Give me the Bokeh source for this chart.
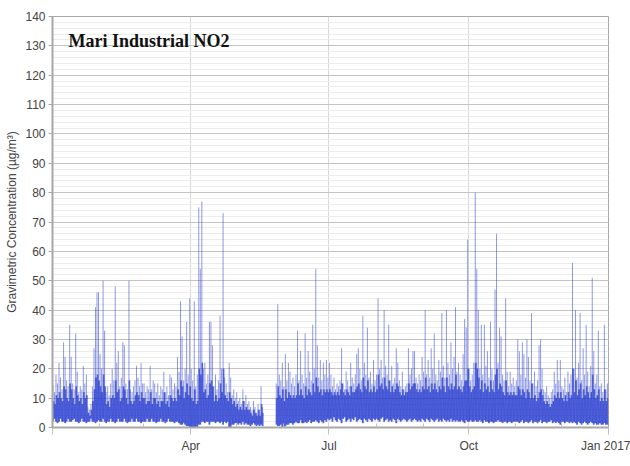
import numpy as np
from bokeh.plotting import figure
from bokeh.models import FixedTicker, SingleIntervalTicker, Label, Range1d
from bokeh.embed import file_html
from bokeh.resources import INLINE

N = None
# day offsets from 2016-01-01
tick_days = [0, 91, 182, 274, 366]
tick_labels = ["", "Apr", "Jul", "Oct", "Jan 2017"]
month_starts = [31, 60, 121, 152, 213, 244, 305, 335]
year_label = "2016"
title_text = "Mari Industrial NO2"
y_title = "Gravimetric Concentration (µg/m³)"

# daily peak (hourly maximum), µg/m³
daily_peak = (
    [14, 12, 18, 15, 22, 17, 13, 29, 24, 16, 14, 35, 24, 15, 13, 32, 19, 12, 14, 13, 21, 15, 18, 7, 6, 8, 14, 27, 41, 46, 46] +
    [25, 20, 50, 33, 12, 14, 11, 15, 20, 16, 48, 22, 26, 14, 17, 29, 28, 15, 13, 50, 13, 12, 14, 16, 21, 17, 14, 22, 15] +
    [15, 12, 14, 13, 21, 13, 16, 15, 12, 15, 11, 14, 13, 19, 12, 14, 11, 18, 17, 13, 15, 14, 24, 19, 43, 31, 16, 20, 36, 18, 44] +
    [20, 16, 43, 14, 18, 75, 54, 77, 20, 22, 15, 18, 36, 36, 28, 14, 18, 13, 16, 38, 20, 73, 17, 15, 12, 22, 17, 11, 13, 10] +
    [12, 9, 10, 8, 13, 9, 11, 8, 9, 7, 6, 9, 7, 5, 8, 6, 14, 7, N, N, N, N, N, N, N, N, 15, 42, 18, 16, 22] +
    [14, 25, 16, 22, 19, 15, 17, 14, 18, 33, 16, 26, 18, 15, 32, 17, 26, 19, 16, 35, 20, 54, 28, 17, 23, 16, 22, 18, 23, 17] +
    [22, 18, 14, 17, 13, 15, 14, 16, 27, 15, 13, 19, 16, 14, 22, 17, 15, 18, 25, 27, 20, 16, 38, 22, 18, 34, 17, 19, 15, 23, 16] +
    [18, 44, 20, 23, 17, 40, 21, 18, 35, 16, 21, 15, 17, 27, 22, 16, 14, 19, 13, 14, 15, 27, 18, 20, 26, 26, 17, 15, 18, 16, 24] +
    [19, 40, 18, 23, 17, 27, 20, 32, 18, 16, 23, 19, 39, 21, 17, 40, 22, 18, 29, 20, 24, 41, 19, 22, 18, 16, 25, 37, 34, 64] +
    [20, 16, 18, 22, 80, 54, 40, 20, 35, 18, 35, 21, 26, 17, 36, 20, 16, 47, 66, 22, 34, 31, 18, 16, 44, 19, 14, 19, 15, 17, 14] +
    [16, 30, 26, 18, 29, 25, 17, 30, 24, 16, 39, 15, 19, 14, 16, 28, 30, 20, 13, 12, 14, 11, 10, 12, 13, 19, 15, 23, 16, 23] +
    [14, 13, 17, 12, 19, 15, 18, 56, 20, 40, 17, 22, 39, 16, 27, 18, 35, 19, 14, 21, 51, 26, 15, 18, 33, 14, 15, 12, 35, 13, 15]
)
# daily upper edge of the dense band
daily_band = (
    [9, 8, 11, 10, 12, 10, 9, 14, 13, 10, 9, 15, 13, 10, 8, 14, 11, 9, 10, 8, 12, 10, 11, 5, 4, 6, 9, 13, 17, 18, 16] +
    [14, 12, 18, 14, 8, 9, 7, 10, 11, 10, 16, 12, 13, 9, 10, 14, 13, 10, 8, 16, 9, 8, 9, 11, 12, 11, 9, 12, 10] +
    [10, 8, 9, 9, 12, 8, 10, 10, 8, 9, 7, 9, 9, 12, 8, 9, 7, 11, 10, 9, 10, 9, 13, 11, 16, 14, 10, 12, 15, 11, 14] +
    [10, 9, 13, 8, 9, 20, 18, 22, 12, 13, 10, 11, 15, 16, 14, 9, 11, 9, 10, 15, 12, 20, 11, 10, 9, 12, 10, 8, 9, 7] +
    [8, 6, 7, 6, 9, 6, 7, 6, 6, 5, 4, 6, 5, 4, 6, 4, 8, 5, N, N, N, N, N, N, N, N, 10, 14, 11, 10, 13] +
    [9, 13, 10, 12, 11, 10, 11, 10, 11, 15, 11, 13, 11, 10, 14, 11, 13, 12, 11, 15, 12, 17, 14, 12, 13, 11, 13, 12, 13, 12] +
    [13, 12, 11, 12, 11, 12, 11, 13, 15, 12, 11, 13, 12, 11, 14, 12, 12, 13, 14, 15, 13, 12, 17, 14, 13, 16, 12, 13, 12, 14, 12] +
    [13, 18, 14, 15, 13, 17, 14, 13, 16, 12, 14, 12, 13, 15, 14, 12, 11, 13, 11, 12, 12, 15, 13, 14, 15, 15, 13, 12, 13, 12, 14] +
    [13, 17, 13, 14, 12, 15, 13, 15, 13, 12, 14, 13, 17, 14, 12, 17, 14, 13, 15, 13, 14, 18, 13, 14, 13, 12, 14, 16, 16, 20] +
    [14, 12, 13, 14, 22, 20, 17, 13, 16, 12, 15, 13, 14, 12, 16, 13, 12, 18, 20, 13, 15, 14, 12, 11, 16, 12, 11, 12, 11, 12, 11] +
    [11, 14, 13, 11, 13, 12, 10, 13, 12, 10, 15, 10, 11, 9, 10, 12, 13, 11, 9, 8, 9, 8, 7, 8, 9, 11, 10, 12, 10, 12] +
    [10, 9, 11, 9, 12, 10, 11, 20, 12, 16, 11, 13, 15, 10, 13, 11, 14, 12, 10, 12, 18, 13, 10, 11, 13, 9, 10, 9, 13, 9, 10]
)
# daily minimum
daily_low = (
    [2, 3, 2, 1.5, 2, 3, 2, 2, 1.5, 2, 3, 2, 2, 2.5, 3, 2, 2, 1.5, 2, 3, 2, 2, 1.5, 2, 2, 3, 2, 2, 1.5, 2, 2.5] +
    [2, 2, 3, 2, 1.5, 2, 2, 3, 2, 2, 1.5, 2, 3, 2, 2, 2, 3, 2, 1.5, 2, 2, 3, 2, 2, 3, 2, 2, 1.5, 2] +
    [2, 2, 3, 2, 2, 3, 2, 2, 1.5, 2, 2, 3, 2, 2, 1.5, 2, 3, 2, 2, 2, 1.5, 2, 2, 1.5, 1, 1, 1.5, 1, 0.5, 0.5, 0] +
    [0, 0, 0, 0, 0, 1, 1, 2, 2, 1.5, 2, 2, 1, 2, 2, 2, 1.5, 2, 2, 1.5, 2, 1, 2, 1.5, 2, 0, 0, 1, 1, 1.5] +
    [1.5, 1, 1.5, 1, 2, 1, 1.5, 1, 1, 0.5, 1, 1.5, 1, 0.5, 1, 0.5, 1, 0.5, N, N, N, N, N, N, N, N, 1, 0.5, 0.5, 1, 0] +
    [0, 0.5, 1, 1, 1.5, 1.5, 1, 1.5, 2, 1.5, 1.5, 2.5, 1.5, 1.5, 2, 1.5, 2, 2.5, 1.5, 2, 2, 2.5, 2, 1.5, 2.5, 2, 1.5, 2.5, 2, 3] +
    [2.5, 3, 2, 3.5, 2.5, 2, 3, 2.5, 1.5, 3, 3.5, 2, 2.5, 3, 2, 3, 2.5, 3.5, 2, 2.5, 3, 2.5, 1.5, 3, 2.5, 2, 3, 2.5, 2, 3, 2.5] +
    [3, 2.5, 2, 3, 3.5, 2, 2.5, 3, 2, 2.5, 2, 3, 2.5, 1.5, 3, 2.5, 2, 2.5, 3, 2.5, 2, 2.5, 3, 2, 2.5, 3, 2.5, 2, 2.5, 2, 3] +
    [2.5, 2, 3, 2.5, 2, 3, 2.5, 2, 2.5, 3, 2, 2.5, 2, 3, 2.5, 2, 2.5, 2, 3, 2, 2.5, 2, 2.5, 2, 2, 2.5, 2, 1.5, 2.5, 2] +
    [2, 2.5, 2, 2, 2.5, 2, 2, 2.5, 2, 1.5, 2.5, 2, 2, 1.5, 2, 2, 1.5, 2, 2, 2.5, 2, 2, 1.5, 2, 2, 1.5, 2, 2, 1.5, 2, 2] +
    [2, 2, 1.5, 2, 2.5, 1.5, 2, 2, 1.5, 2, 2.5, 1.5, 2, 2, 1.5, 2, 2.5, 1.5, 2, 2, 1.5, 2, 2, 2.5, 1.5, 2, 1.5, 2, 1.5, 1] +
    [2, 2, 1.5, 2, 2, 1.5, 2, 1.5, 2, 1.5, 1, 2, 1.5, 1, 1.5, 2, 1.5, 1, 1.5, 2, 1.5, 1, 1.5, 1, 1, 1.5, 1, 1, 1.5, 1, 1]
)

assert len(daily_peak) == 366 and len(daily_band) == 366 and len(daily_low) == 366

# dense band: zig-zag between each day's minimum and band top
bx, by = [], []
# spikes: one thin stroke from band top to the day's peak
sx, sy0, sy1 = [], [], []
for d in range(366):
    lo, pk, bd = daily_low[d], daily_peak[d], daily_band[d]
    if pk is None:
        bx.append(d + 0.5)
        by.append(np.nan)
        continue
    bx += [d + 0.05, d + 0.3, d + 0.55, d + 0.8]
    by += [lo, bd, lo, bd]
    sx.append(d + 0.3)
    sy0.append(bd)
    sy1.append(pk)

p = figure(width=630, height=466, output_backend="svg", toolbar_location=None,
           x_range=Range1d(0, 366), y_range=Range1d(0, 140),
           min_border_left=52, min_border_right=22, min_border_top=16, min_border_bottom=39)
p.background_fill_color = "white"
p.border_fill_color = "white"
p.outline_line_color = "#a8a8a8"
p.outline_line_width = 1

line_col = "#1f35d0"
p.segment(x0=sx, y0=sy0, x1=sx, y1=sy1, line_color=line_col, line_alpha=0.5, line_width=1)
p.line(bx, by, line_color=line_col, line_alpha=0.5, line_width=1)

# axes
xax = p.xaxis[0]
xax.ticker = FixedTicker(ticks=tick_days, minor_ticks=month_starts)
xax.major_label_overrides = {d: lab for d, lab in zip(tick_days, tick_labels)}
xax.major_tick_in = 0
xax.major_tick_out = 7
xax.minor_tick_in = 4
xax.minor_tick_out = 0
xax.axis_line_color = "#a8a8a8"
xax.axis_line_width = 2
xax.major_tick_line_color = "#c0c0c0"
xax.minor_tick_line_color = "#c0c0c0"
xax.major_label_text_font = "Liberation Sans"
xax.major_label_text_font_size = "12px"
xax.major_label_text_color = "#444444"
xax.major_label_standoff = 4

yax = p.yaxis[0]
yax.ticker = SingleIntervalTicker(interval=10, num_minor_ticks=5)
yax.major_tick_in = 0
yax.major_tick_out = 4
yax.minor_tick_line_color = None
yax.axis_line_color = "#a8a8a8"
yax.axis_line_width = 2
yax.major_tick_line_color = "#a8a8a8"
yax.major_label_text_font = "Liberation Sans"
yax.major_label_text_font_size = "12px"
yax.major_label_text_color = "#444444"
yax.major_label_standoff = 3
yax.axis_label = y_title
yax.axis_label_text_font = "Liberation Sans"
yax.axis_label_text_font_size = "12px"
yax.axis_label_text_font_style = "normal"
yax.axis_label_text_color = "#444444"
yax.axis_label_standoff = 3

p.ygrid.grid_line_color = "#c4c4c4"
p.ygrid.minor_grid_line_color = "#ececec"
p.xgrid.grid_line_color = "#d8d8d8"
p.xgrid.grid_line_width = 1

p.add_layout(Label(x=10.6, y=131.5, text=title_text, text_font="Liberation Serif",
                   text_font_style="bold", text_font_size="18px", text_baseline="middle",
                   text_color="#111111"))
p.add_layout(Label(x=-5.3, y=-8.2, text=year_label, text_font="Liberation Sans",
                   text_font_size="12px", text_baseline="top", text_color="#444444"))

open("out.html", "w").write(file_html(p, INLINE))
